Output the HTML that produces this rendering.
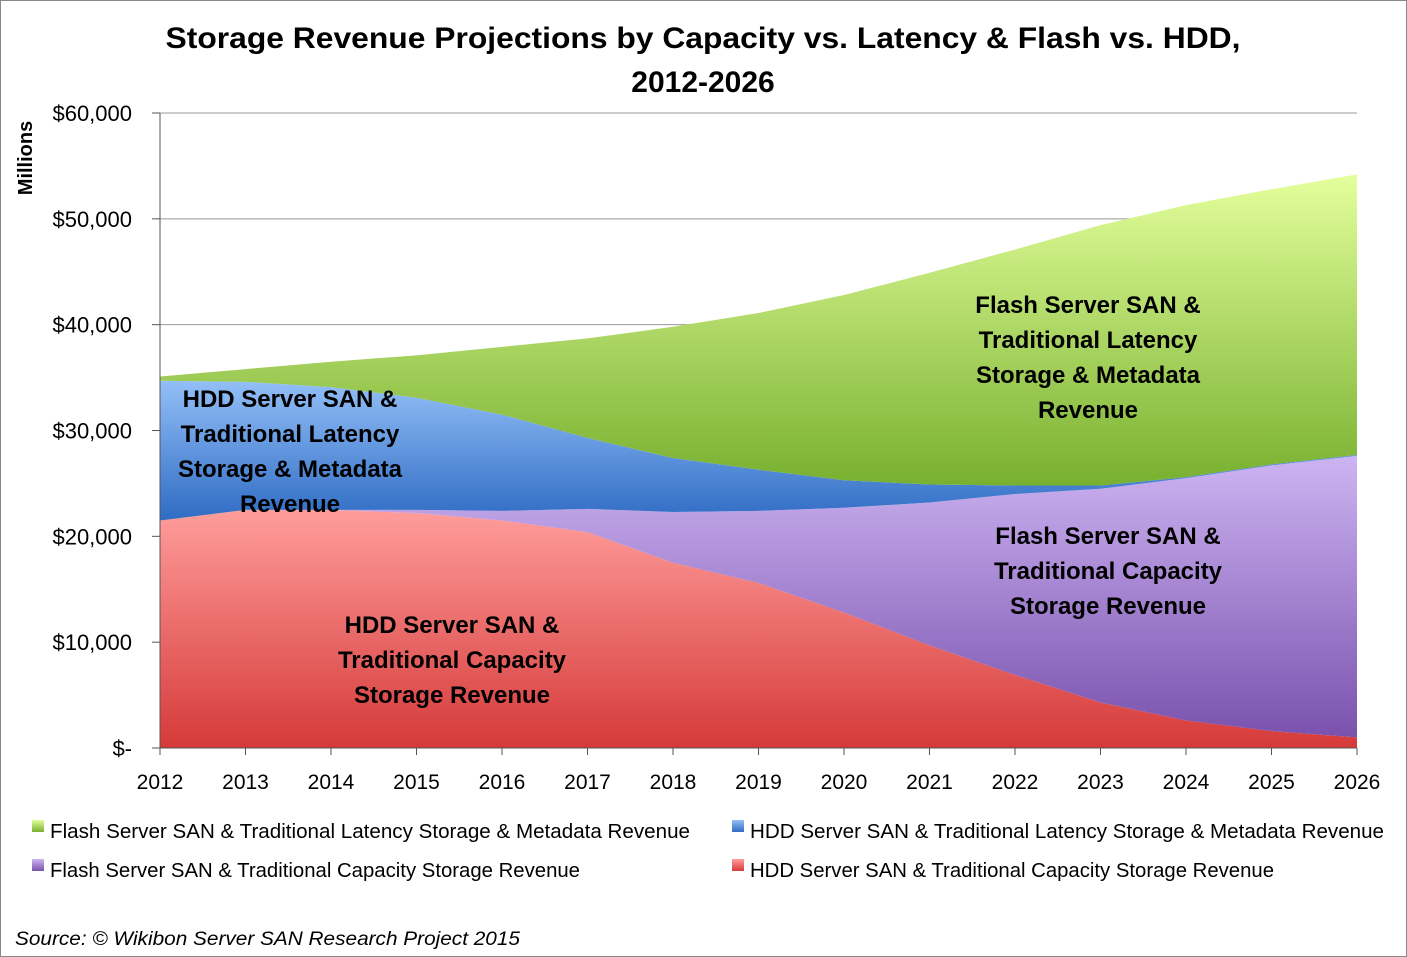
<!DOCTYPE html>
<html><head><meta charset="utf-8"><style>
body{margin:0;background:#fff;}
svg{display:block;font-family:"Liberation Sans",sans-serif;}
</style></head><body>
<svg id="chart" width="1407" height="957" viewBox="0 0 1407 957">
<defs>
<linearGradient id="gG" x1="0" y1="0" x2="0" y2="1"><stop offset="0" stop-color="#e4ff9c"/><stop offset="1" stop-color="#78b030"/></linearGradient>
<linearGradient id="gB" x1="0" y1="0" x2="0" y2="1"><stop offset="0" stop-color="#93bff7"/><stop offset="1" stop-color="#2f6cc4"/></linearGradient>
<linearGradient id="gP" x1="0" y1="0" x2="0" y2="1"><stop offset="0" stop-color="#cdb4f2"/><stop offset="1" stop-color="#7a52ae"/></linearGradient>
<linearGradient id="gR" x1="0" y1="0" x2="0" y2="1"><stop offset="0" stop-color="#ff9d9b"/><stop offset="1" stop-color="#d53a39"/></linearGradient>
</defs>
<rect x="0.5" y="0.5" width="1406" height="956" fill="#fff" stroke="#888"/>
<text x="703" y="48" text-anchor="middle" font-size="30" font-weight="bold" textLength="1075" lengthAdjust="spacingAndGlyphs">Storage Revenue Projections by Capacity vs. Latency &amp; Flash vs. HDD,</text>
<text x="703" y="92" text-anchor="middle" font-size="30" font-weight="bold">2012-2026</text>
<text transform="translate(32,158) rotate(-90)" text-anchor="middle" font-size="20" font-weight="bold">Millions</text>
<g id="grid"></g><g id="areas"></g><g id="axes"></g><g id="labels"></g><g id="legend"></g>
<text x="15" y="945" font-size="19" font-style="italic" textLength="505" lengthAdjust="spacingAndGlyphs">Source: © Wikibon Server SAN Research Project 2015</text>
</svg>
<script>
const years=[2012,2013,2014,2015,2016,2017,2018,2019,2020,2021,2022,2023,2024,2025,2026];
const hddCapacity=[21.5,22.5,22.5,22.2,21.5,20.4,17.5,15.6,12.8,9.7,6.9,4.3,2.6,1.6,1.0];
const flashCapacity=[0,0,0,0.3,0.9,2.2,4.8,6.8,9.9,13.5,17.1,20.2,22.9,25.1,26.6];
const hddLatency=[13.2,12.1,11.6,10.6,9.1,6.7,5.1,3.9,2.6,1.7,0.8,0.3,0.1,0.1,0.1];
const flashLatency=[0.4,1.2,2.4,4.0,6.4,9.4,12.4,14.8,17.5,20.0,22.3,24.6,25.7,26.0,26.5];
const yTicks=[0,10,20,30,40,50,60];
const yTickLabels=["$-","$10,000","$20,000","$30,000","$40,000","$50,000","$60,000"];
const NS="http://www.w3.org/2000/svg";
const X=i=>160+i*(1357-160)/(years.length-1);
const Y=v=>748-v*(748-113)/60;
function mk(tag,attrs,parent,txt){const e=document.createElementNS(NS,tag);for(const k in attrs)e.setAttribute(k,attrs[k]);if(txt!=null)e.textContent=txt;document.getElementById(parent).appendChild(e);return e;}
yTicks.forEach((t,i)=>{
  if(t>0){const g=mk('line',{x1:160,x2:1357,y1:Y(t),y2:Y(t),stroke:'#999','stroke-width':1},'grid');
  
  }
  const tk=mk('line',{x1:152,x2:160,y1:Y(t),y2:Y(t),stroke:'#555'},'axes');
  
  
  const lb=mk('text',{x:132,y:Y(t)+8,'text-anchor':'end','font-size':22},'axes',yTickLabels[i]);
  
  
});
const series=[[hddCapacity,'url(#gR)','area-hdd-capacity'],[flashCapacity,'url(#gP)','area-flash-capacity'],[hddLatency,'url(#gB)','area-hdd-latency'],[flashLatency,'url(#gG)','area-flash-latency']];
let base=years.map(()=>0);
series.forEach(([vals,fill,name])=>{
  const top=base.map((b,i)=>b+vals[i]);
  let d='M'+years.map((_,i)=>X(i)+','+Y(top[i])).join('L');
  for(let i=years.length-1;i>=0;i--)d+='L'+X(i)+','+Y(base[i]);
  const p=mk('path',{d:d+'Z',fill:fill},'areas');
  
  
  base=top;
});
const ya=mk('line',{x1:160,x2:160,y1:113,y2:748,stroke:'#555'},'axes');


const xa=mk('line',{x1:160,x2:1357,y1:748,y2:748,stroke:'#555'},'axes');


years.forEach((y,i)=>{
  const t=mk('line',{x1:X(i),x2:X(i),y1:748,y2:755,stroke:'#555'},'axes');
  
  
  const l=mk('text',{x:X(i),y:789,'text-anchor':'middle','font-size':21},'axes',y);
  
  
});
const areaLabels=[[1088,['Flash Server SAN &','Traditional Latency','Storage & Metadata','Revenue'],313,'label-flash-latency'],
[290,['HDD Server SAN &','Traditional Latency','Storage & Metadata','Revenue'],407,'label-hdd-latency'],
[1108,['Flash Server SAN &','Traditional Capacity','Storage Revenue'],544,'label-flash-capacity'],
[452,['HDD Server SAN &','Traditional Capacity','Storage Revenue'],633,'label-hdd-capacity']];
areaLabels.forEach(([x,lines,y0,name])=>{
  lines.forEach((s,j)=>{const t=mk('text',{x:x,y:y0+j*35,'text-anchor':'middle','font-size':24,'font-weight':'bold'},'labels',s);
  
  });
});
const legendItems=[['url(#gG)','Flash Server SAN & Traditional Latency Storage & Metadata Revenue',32,832,640],
['url(#gB)','HDD Server SAN & Traditional Latency Storage & Metadata Revenue',732,832,634],
['url(#gP)','Flash Server SAN & Traditional Capacity Storage Revenue',32,871,530],
['url(#gR)','HDD Server SAN & Traditional Capacity Storage Revenue',732,871,524]];
legendItems.forEach(([f,s,x,y,w])=>{
  const r=mk('rect',{x:x,y:y-12,width:12,height:12,fill:f},'legend');
  
  
  const t=mk('text',{x:x+18,y:y+6,'font-size':20,textLength:w,lengthAdjust:'spacingAndGlyphs'},'legend',s);
  
  
});
</script>
</body></html>
